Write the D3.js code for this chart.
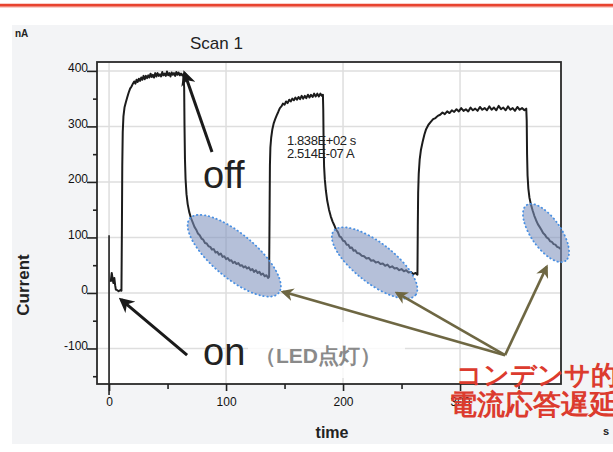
<!DOCTYPE html>
<html>
<head>
<meta charset="utf-8">
<script src="https://cdn.jsdelivr.net/npm/d3@7"></script>
<style>
  html, body { margin: 0; padding: 0; background: #fff; }
  svg { display: block; }
  text { font-family: "Liberation Sans", Arial, sans-serif; }
</style>
</head>
<body>
<div id="chart"></div>
<script>
// time (s) / current (nA), one array per phase
const onset = [[1.4, 20], [2.3, 36], [3.0, 26], [3.7, 18], [4.5, 27], [5.2, 14], [5.8, 6], [7.0, 5], [8.2, 3], [9.4, 5], [10.6, 4]];
const pulse1 = [[11.0, 120], [11.3, 230], [11.7, 290], [12.3, 318], [13.2, 334], [14.3, 343], [15.5, 352], [16.8, 361], [18, 368], [19.2, 372], [20.4, 377], [21.5, 381], [22.5, 377], [23.5, 384], [24.5, 380], [25.5, 386], [26.5, 382], [27.5, 388], [28.5, 384], [29.5, 391], [30.5, 385], [31.5, 391], [32.5, 387], [33.5, 392], [34.5, 388], [35.5, 395], [36.5, 389], [37.5, 393], [38.5, 388], [39.5, 396], [40.5, 390], [41.5, 396], [42.5, 391], [43.5, 394], [44.5, 390], [45.5, 398], [46.5, 392], [47.5, 395], [48.5, 391], [49.5, 399], [50.5, 392], [51.5, 396], [52.5, 390], [53.5, 397], [54.5, 393], [55.5, 396], [56.5, 391], [57.5, 398], [58.5, 393], [59.5, 397], [60.5, 392], [61.5, 395], [62.5, 392], [63.5, 394]];
const decay1 = [[64.2, 370], [64.5, 300], [64.9, 240], [65.4, 205], [66.2, 178], [67.2, 160], [68.5, 146], [70, 135], [71.5, 127], [73, 119], [74.5, 114], [76, 107], [77.5, 104], [79, 98], [80.5, 96], [82, 90], [83.5, 89], [85, 84], [86.5, 83], [88, 78], [89.5, 79], [91, 73], [92.5, 74], [94, 69], [95.5, 71], [97, 65], [98.5, 66], [100, 61], [101.5, 63], [103, 58], [104.5, 59], [106, 54], [107.5, 56], [109, 52], [110.5, 54], [112, 49], [113.5, 50], [115, 46], [116.5, 48], [118, 44], [119.5, 46], [121, 41], [122.5, 43], [124, 38], [125.5, 41], [127, 36], [128.5, 38], [130, 33], [131.5, 35], [133, 30], [134.5, 32], [136, 27], [136.8, 29]];
const pulse2 = [[137.2, 140], [137.5, 230], [137.9, 262], [138.6, 280], [139.6, 295], [140.8, 306], [142, 313], [143.3, 320], [144.6, 326], [146, 333], [147.3, 336], [148.6, 341], [150, 339], [151.3, 345], [152.6, 342], [154, 348], [155.3, 345], [156.6, 350], [158, 347], [159.3, 352], [160.6, 348], [162, 353], [163.3, 349], [164.6, 355], [166, 350], [167.3, 355], [168.6, 351], [170, 357], [171.3, 352], [172.6, 357], [174, 353], [175.3, 359], [176.6, 354], [178, 359], [179.3, 354], [180.6, 359], [182, 355], [182.8, 357]];
const decay2 = [[183.1, 330], [183.4, 270], [183.8, 228], [184.4, 205], [185.3, 185], [186.5, 166], [188, 150], [189.5, 138], [191, 129], [192.5, 122], [194, 114], [195.5, 110], [197, 102], [198.5, 100], [200, 94], [201.5, 93], [203, 87], [204.5, 87], [206, 81], [207.5, 82], [209, 76], [210.5, 77], [212, 72], [214, 71], [216, 67], [218, 66], [220, 62], [222, 63], [224, 58], [226, 59], [228, 55], [230, 56], [232, 52], [234, 53], [236, 49], [238, 51], [240, 46], [242, 48], [244, 44], [246, 45], [248, 41], [250, 43], [252, 39], [254, 41], [256, 37], [258, 38], [260, 34], [262, 36], [263.6, 33]];
const pulse3 = [[263.9, 120], [264.2, 180], [264.7, 215], [265.5, 240], [266.6, 258], [268, 272], [269.5, 285], [271, 295], [273, 303], [275, 308], [277, 313], [279, 315], [281, 319], [283, 321], [285, 325], [287, 322], [289, 327], [291, 324], [293, 329], [295, 326], [297, 331], [299, 327], [301, 333], [303, 328], [305, 331], [307, 327], [309, 334], [311, 329], [313, 332], [315, 328], [317, 335], [319, 330], [321, 333], [323, 329], [325, 336], [327, 330], [329, 334], [331, 329], [333, 337], [335, 331], [337, 334], [339, 329], [341, 336], [343, 330], [345, 333], [347, 328], [349, 335], [351, 330], [353, 333], [355, 329], [356.6, 332]];
const decay3 = [[357, 310], [357.3, 250], [357.7, 212], [358.4, 188], [359.3, 172], [360.5, 160], [362, 149], [363.5, 139], [365, 131], [366.5, 124], [368, 119], [369.5, 114], [371, 108], [372.5, 105], [374, 100], [375.5, 98], [377, 93], [378.5, 92], [380, 88], [381.5, 87], [383, 83], [384.5, 82], [386, 79]];

const xMajorTicks = [0, 100, 200, 300];
const xMinorTicks = [50, 150, 250, 350];
const yMajorTicks = [-100, 0, 100, 200, 300, 400];
const yMinorTicks = [-150, -50, 50, 150, 250, 350];

const cursorLabels = ['1.838E+02 s', '2.514E-07 A'];
const noteLines = ['コンデンサ的', '電流応答遅延'];

const width = 613, height = 452;
const plot = {left: 97, right: 561, top: 62, bottom: 384};

const scan = [].concat(onset, pulse1, decay1, pulse2, decay2, pulse3, decay3);

const x = d3.scaleLinear().domain([-10.3, 386.3]).range([plot.left, plot.right]);
const y = d3.scaleLinear().domain([-164, 416]).range([plot.bottom, plot.top]);

const svg = d3.select('#chart').append('svg')
  .attr('width', width)
  .attr('height', height);

const defs = svg.append('defs');
defs.append('clipPath').attr('id', 'plot-clip')
  .append('rect')
  .attr('x', plot.left).attr('y', plot.top)
  .attr('width', plot.right - plot.left).attr('height', plot.bottom - plot.top);

function arrowHead(id, color, size) {
  defs.append('marker')
    .attr('id', id)
    .attr('viewBox', '0 0 10 10')
    .attr('refX', 8).attr('refY', 5)
    .attr('markerUnits', 'userSpaceOnUse')
    .attr('markerWidth', size).attr('markerHeight', size)
    .attr('orient', 'auto')
    .append('path')
    .attr('d', 'M0,0 L10,5 L0,10 L3,5 Z')
    .attr('fill', color);
}
arrowHead('head-black', '#1a1a1a', 15);
arrowHead('head-olive', '#6e6743', 13);

// top rule + grey panel
svg.append('rect').attr('x', 0).attr('y', 3).attr('width', width).attr('height', 5)
  .attr('fill', '#f5a095').attr('opacity', 0.5);
svg.append('rect').attr('x', 0).attr('y', 4).attr('width', width).attr('height', 2.5)
  .attr('fill', '#e8432f');
svg.append('rect').attr('x', 12).attr('y', 25).attr('width', width - 12).attr('height', 419)
  .attr('fill', '#f3f4f6');

svg.append('rect')
  .attr('x', plot.left).attr('y', plot.top)
  .attr('width', plot.right - plot.left).attr('height', plot.bottom - plot.top)
  .attr('fill', '#fff');

// grid
const grid = svg.append('g').attr('stroke', '#dedede').attr('stroke-width', 1.5);
grid.selectAll('.gx').data(xMajorTicks).enter().append('line')
  .attr('x1', d => x(d)).attr('x2', d => x(d))
  .attr('y1', plot.top).attr('y2', plot.bottom);
grid.selectAll('.gy').data(yMajorTicks).enter().append('line')
  .attr('x1', plot.left).attr('x2', plot.right)
  .attr('y1', d => y(d)).attr('y2', d => y(d));

// scan trace
const line = d3.line().x(d => x(d[0])).y(d => y(d[1]));
svg.append('path')
  .datum(scan)
  .attr('clip-path', 'url(#plot-clip)')
  .attr('fill', 'none')
  .attr('stroke', '#1c1c1c')
  .attr('stroke-width', 2)
  .attr('stroke-linejoin', 'round')
  .attr('d', line);

// t = 0 marker
svg.append('line')
  .attr('x1', x(0)).attr('x2', x(0))
  .attr('y1', y(104)).attr('y2', plot.bottom + 11)
  .attr('stroke', '#222').attr('stroke-width', 1.6);

// frame
svg.append('rect')
  .attr('x', plot.left).attr('y', plot.top)
  .attr('width', plot.right - plot.left).attr('height', plot.bottom - plot.top)
  .attr('fill', 'none').attr('stroke', '#2a2a2a').attr('stroke-width', 1.8);

// axes
const plain = d => String(d);

const yAxis = svg.append('g')
  .attr('transform', 'translate(' + plot.left + ',0)')
  .call(d3.axisLeft(y).tickValues(yMajorTicks).tickSize(10).tickPadding(-1).tickFormat(plain));
yAxis.select('.domain').remove();
yAxis.selectAll('line').attr('stroke', '#222').attr('stroke-width', 1.6);
yAxis.selectAll('text').attr('dy', '0.05em').attr('font-size', 12)
  .attr('fill', '#111').attr('font-family', 'Liberation Sans, Arial, sans-serif');

const yMinor = svg.append('g')
  .attr('transform', 'translate(' + plot.left + ',0)')
  .call(d3.axisLeft(y).tickValues(yMinorTicks).tickSize(4).tickFormat(''));
yMinor.select('.domain').remove();
yMinor.selectAll('line').attr('stroke', '#222').attr('stroke-width', 1.6);

const xAxis = svg.append('g')
  .attr('transform', 'translate(0,' + plot.bottom + ')')
  .call(d3.axisBottom(x).tickValues(xMajorTicks).tickSize(7).tickPadding(6).tickFormat(plain));
xAxis.select('.domain').remove();
xAxis.selectAll('line').attr('stroke', '#222').attr('stroke-width', 1.6);
xAxis.selectAll('text').attr('font-size', 12)
  .attr('fill', '#111').attr('font-family', 'Liberation Sans, Arial, sans-serif');

const xMinor = svg.append('g')
  .attr('transform', 'translate(0,' + plot.bottom + ')')
  .call(d3.axisBottom(x).tickValues(xMinorTicks).tickSize(5).tickFormat(''));
xMinor.select('.domain').remove();
xMinor.selectAll('line').attr('stroke', '#222').attr('stroke-width', 1.6);

// titles
svg.append('text').attr('x', 15).attr('y', 37)
  .attr('font-size', 10).attr('font-weight', 'bold').attr('fill', '#222')
  .text('nA');
svg.append('text').attr('x', 190).attr('y', 49)
  .attr('font-size', 17).attr('fill', '#222')
  .text('Scan 1');
svg.append('text')
  .attr('transform', 'translate(29,285) rotate(-90)')
  .attr('text-anchor', 'middle')
  .attr('font-size', 17).attr('font-weight', 'bold').attr('fill', '#222')
  .text('Current');
svg.append('text').attr('x', 332).attr('y', 438)
  .attr('text-anchor', 'middle')
  .attr('font-size', 16).attr('font-weight', 'bold').attr('fill', '#222')
  .text('time');
svg.append('text').attr('x', 603).attr('y', 435)
  .attr('font-size', 11).attr('font-weight', 'bold').attr('fill', '#222')
  .text('s');

// cursor readout
svg.selectAll('.cursor').data(cursorLabels).enter().append('text')
  .attr('x', 287).attr('y', (d, i) => 145 + i * 13)
  .attr('font-size', 13).attr('letter-spacing', -0.4).attr('fill', '#222')
  .text(d => d);

// highlighted decays
const blobs = [
  {t: 107, v: 67, rx: 58, ry: 22, angle: 40},
  {t: 227, v: 54, rx: 52, ry: 20, angle: 38},
  {t: 373.5, v: 108, rx: 34, ry: 15, angle: 55}
];
svg.selectAll('.blob').data(blobs).enter().append('ellipse')
  .attr('transform', d => 'translate(' + x(d.t) + ',' + y(d.v) + ') rotate(' + d.angle + ')')
  .attr('rx', d => d.rx).attr('ry', d => d.ry)
  .attr('fill', '#7f93bd').attr('fill-opacity', 0.58)
  .attr('stroke', '#4a90e2').attr('stroke-width', 1.8)
  .attr('stroke-dasharray', '0.5 3.5').attr('stroke-linecap', 'round');

// LED label backdrop
svg.append('rect').attr('x', 248).attr('y', 322).attr('width', 157).attr('height', 56)
  .attr('fill', '#fff').attr('opacity', 0.8);

svg.append('text').attr('x', 203).attr('y', 188)
  .attr('font-size', 38).attr('fill', '#222').text('off');
svg.append('text').attr('x', 203).attr('y', 365)
  .attr('font-size', 38).attr('fill', '#222').text('on');
svg.append('text').attr('x', 255).attr('y', 363)
  .attr('font-family', '"Noto Sans CJK JP", sans-serif')
  .attr('font-size', 21).attr('font-weight', 'bold').attr('fill', '#8a8a8a')
  .text('（LED点灯）');

// arrows
const blackArrows = [
  {from: [88, 254], to: [64.5, 396]},
  {from: [66.7, -112], to: [10.3, -12]}
];
svg.selectAll('.arrow-b').data(blackArrows).enter().append('line')
  .attr('x1', d => x(d.from[0])).attr('y1', d => y(d.from[1]))
  .attr('x2', d => x(d.to[0])).attr('y2', d => y(d.to[1]))
  .attr('stroke', '#1a1a1a').attr('stroke-width', 3)
  .attr('marker-end', 'url(#head-black)');

const oliveFrom = [338.5, -112];
const oliveTips = [[148.7, 2], [246, 0], [374, 47]];
svg.selectAll('.arrow-o').data(oliveTips).enter().append('line')
  .attr('x1', x(oliveFrom[0])).attr('y1', y(oliveFrom[1]))
  .attr('x2', d => x(d[0])).attr('y2', d => y(d[1]))
  .attr('stroke', '#6e6743').attr('stroke-width', 2.6)
  .attr('marker-end', 'url(#head-olive)');

// red note
svg.selectAll('.note').data(noteLines).enter().append('text')
  .attr('x', (d, i) => i === 0 ? 456 : 449)
  .attr('y', (d, i) => i === 0 ? 384 : 414)
  .attr('font-family', '"Noto Sans CJK JP", sans-serif')
  .attr('font-size', (d, i) => i === 0 ? 26 : 28)
  .attr('font-weight', 'bold')
  .attr('fill', '#dc3b2e')
  .text(d => d);
</script>
</body>
</html>
